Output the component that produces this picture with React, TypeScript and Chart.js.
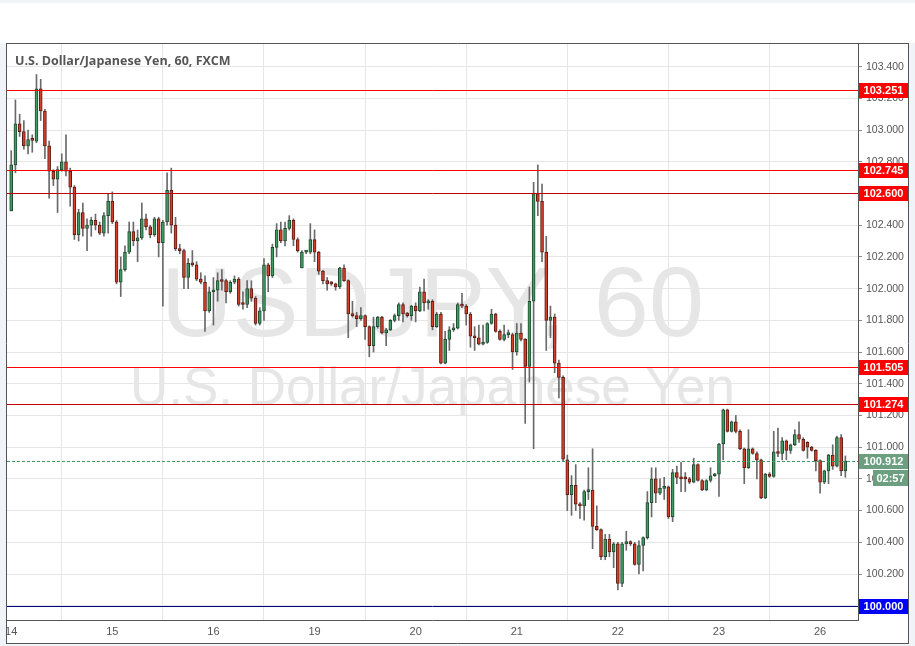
import React, { useEffect, useRef } from "react";
import { Chart, registerables } from "chart.js";

Chart.register(...registerables);

const title = "U.S. Dollar/Japanese Yen, 60, FXCM";
const watermarkMain = "USDJPY, 60";
const watermarkSub = "U.S. Dollar/Japanese Yen";

const dayLabels = ["14", "15", "16", "19", "20", "21", "22", "23", "26"];
const dayStarts = [0, 24, 48, 72, 96, 120, 144, 168, 192];

const opens = [
  102.49, 102.78, 103.04, 102.99, 102.90, 102.94, 102.93, 103.26, 103.12, 102.90,
  102.74, 102.69, 102.75, 102.80, 102.74, 102.64, 102.34, 102.48, 102.38, 102.40,
  102.43, 102.40, 102.35, 102.46, 102.55, 102.42, 102.04, 102.12, 102.23, 102.36,
  102.30, 102.32, 102.44, 102.39, 102.34, 102.44, 102.29, 102.42, 102.62, 102.40,
  102.25, 102.24, 102.07, 102.16, 102.15, 102.06, 102.04, 101.86, 101.98, 101.99,
  102.055, 102.05, 101.98, 102.04, 102.06, 101.905, 101.90, 102.00, 101.94, 101.78,
  101.86, 102.15, 102.08, 102.26, 102.37, 102.30, 102.38, 102.43, 102.31, 102.13,
  102.23, 102.23, 102.31, 102.23, 102.11, 102.05, 102.035, 102.03, 102.01, 102.13,
  102.05, 101.84, 101.83, 101.81, 101.83, 101.76, 101.64, 101.76, 101.82, 101.72,
  101.74, 101.80, 101.83, 101.90, 101.845, 101.83, 101.89, 101.86, 101.98, 101.91,
  101.92, 101.76, 101.84, 101.53, 101.68, 101.74, 101.75, 101.90, 101.89, 101.84,
  101.70, 101.69, 101.65, 101.66, 101.78, 101.84, 101.73, 101.68, 101.71, 101.71,
  101.60, 101.72, 101.68, 101.51, 101.92, 102.60, 102.55, 102.23, 101.80, 101.82,
  101.53, 101.44, 100.92, 100.70, 100.76, 100.64, 100.63, 100.72, 100.73, 100.50,
  100.48, 100.31, 100.42, 100.34, 100.39, 100.14, 100.39, 100.405, 100.39, 100.26,
  100.38, 100.43, 100.65, 100.80, 100.71, 100.74, 100.75, 100.56, 100.84, 100.81,
  100.805, 100.80, 100.78, 100.89, 100.79, 100.73, 100.79, 100.82, 100.83, 101.02,
  101.235, 101.10, 101.16, 101.10, 100.99, 100.87, 100.99, 100.96, 100.92, 100.68,
  100.83, 100.815, 100.97, 100.96, 101.04, 100.98, 101.015, 101.08, 101.05, 101.03,
  101.00, 100.98, 100.915, 100.78, 100.85, 100.95, 100.88, 101.06, 100.85,
];

const highs = [
  102.87, 103.19, 103.10, 103.06, 103.00, 102.97, 103.35, 103.32, 103.13, 102.93,
  102.75, 102.77, 102.85, 102.97, 102.76, 102.65, 102.50, 102.54, 102.44, 102.45,
  102.47, 102.42, 102.48, 102.60, 102.61, 102.43, 102.20, 102.27, 102.42, 102.42,
  102.37, 102.54, 102.47, 102.40, 102.45, 102.45, 102.43, 102.73, 102.76, 102.45,
  102.28, 102.25, 102.19, 102.24, 102.17, 102.10, 102.08, 102.01, 102.07, 102.10,
  102.12, 102.06, 102.05, 102.08, 102.07, 101.98, 102.05, 102.05, 101.95, 101.88,
  102.19, 102.16, 102.28, 102.41, 102.42, 102.42, 102.46, 102.44, 102.32, 102.24,
  102.24, 102.41, 102.37, 102.235, 102.115, 102.07, 102.045, 102.035, 102.135, 102.15,
  102.055, 101.92, 101.85, 101.88, 101.835, 101.765, 101.82, 101.825, 101.825, 101.75,
  101.805, 101.84, 101.91, 101.91, 101.85, 101.895, 101.91, 102.01, 102.06, 101.93,
  101.93, 101.85, 101.85, 101.73, 101.76, 101.78, 101.91, 101.97, 101.90, 101.85,
  101.76, 101.77, 101.77, 101.785, 101.87, 101.845, 101.74, 101.77, 101.74, 101.72,
  101.78, 101.78, 101.685, 102.01, 102.67, 102.78, 102.66, 102.33, 101.89, 101.84,
  101.55, 101.45, 100.95, 100.82, 100.89, 100.65, 100.73, 100.87, 100.99, 100.63,
  100.485, 100.45, 100.45, 100.40, 100.40, 100.40, 100.47, 100.41, 100.40, 100.41,
  100.435, 100.72, 100.87, 100.87, 100.80, 100.81, 100.755, 100.86, 100.88, 100.905,
  100.84, 100.81, 100.93, 100.895, 100.795, 100.795, 100.87, 100.835, 101.025, 101.24,
  101.24, 101.165, 101.20, 101.11, 100.995, 101.11, 100.995, 100.97, 100.925, 100.835,
  100.84, 101.10, 101.12, 101.06, 101.045, 101.02, 101.11, 101.16, 101.06, 101.035,
  101.005, 100.985, 100.92, 100.855, 100.955, 101.015, 101.07, 101.08, 100.945,
];

const lows = [
  102.49, 102.73, 102.96, 102.88, 102.85, 102.86, 102.92, 103.06, 102.82, 102.57,
  102.65, 102.48, 102.74, 102.71, 102.52, 102.31, 102.30, 102.33, 102.24, 102.33,
  102.37, 102.34, 102.33, 102.35, 102.41, 102.03, 101.95, 102.11, 102.22, 102.27,
  102.17, 102.31, 102.37, 102.32, 102.33, 102.20, 101.89, 102.40, 102.35, 102.24,
  102.22, 102.00, 102.00, 102.14, 102.05, 102.03, 101.73, 101.85, 101.77, 101.92,
  101.99, 101.91, 101.97, 102.03, 101.89, 101.87, 101.88, 101.92, 101.77, 101.77,
  101.80, 101.98, 102.07, 102.20, 102.29, 102.27, 102.37, 102.27, 102.23, 102.13,
  102.22, 102.22, 102.17, 102.09, 102.03, 101.99, 102.02, 101.99, 102.00, 102.045,
  101.69, 101.82, 101.76, 101.80, 101.68, 101.57, 101.60, 101.75, 101.715, 101.64,
  101.735, 101.79, 101.80, 101.79, 101.82, 101.80, 101.79, 101.855, 101.86, 101.87,
  101.74, 101.755, 101.525, 101.525, 101.61, 101.73, 101.745, 101.88, 101.77, 101.63,
  101.61, 101.645, 101.645, 101.655, 101.775, 101.725, 101.675, 101.67, 101.69, 101.49,
  101.58, 101.67, 101.15, 101.41, 100.99, 102.46, 102.17, 101.61, 101.69, 101.47,
  101.31, 100.91, 100.60, 100.57, 100.60, 100.55, 100.54, 100.67, 100.36, 100.475,
  100.29, 100.29, 100.31, 100.24, 100.10, 100.12, 100.35, 100.38, 100.255, 100.20,
  100.22, 100.42, 100.56, 100.65, 100.70, 100.67, 100.55, 100.53, 100.77, 100.72,
  100.72, 100.77, 100.775, 100.785, 100.725, 100.725, 100.78, 100.815, 100.69, 100.92,
  101.095, 101.095, 101.09, 100.985, 100.77, 100.865, 100.955, 100.80, 100.675, 100.675,
  100.81, 100.81, 100.94, 100.92, 100.92, 100.96, 101.01, 101.03, 100.975, 100.93,
  100.975, 100.85, 100.71, 100.77, 100.77, 100.86, 100.875, 100.82, 100.81,
];

const closes = [
  102.78, 103.04, 102.99, 102.90, 102.94, 102.935, 103.26, 103.12, 102.90, 102.74,
  102.69, 102.75, 102.80, 102.74, 102.64, 102.34, 102.48, 102.38, 102.40, 102.43,
  102.40, 102.35, 102.46, 102.55, 102.42, 102.04, 102.12, 102.23, 102.36, 102.30,
  102.32, 102.44, 102.39, 102.34, 102.44, 102.29, 102.42, 102.62, 102.40, 102.25,
  102.24, 102.07, 102.16, 102.15, 102.06, 102.04, 101.86, 101.98, 101.99, 102.05,
  102.045, 101.98, 102.04, 102.06, 101.90, 101.90, 102.00, 101.94, 101.78, 101.86,
  102.15, 102.08, 102.26, 102.37, 102.30, 102.38, 102.43, 102.31, 102.24, 102.23,
  102.235, 102.31, 102.23, 102.11, 102.05, 102.03, 102.03, 102.01, 102.13, 102.05,
  101.84, 101.83, 101.81, 101.83, 101.76, 101.64, 101.76, 101.82, 101.72, 101.74,
  101.80, 101.83, 101.90, 101.84, 101.83, 101.89, 101.86, 101.98, 101.91, 101.92,
  101.76, 101.84, 101.53, 101.68, 101.74, 101.75, 101.90, 101.89, 101.84, 101.70,
  101.69, 101.65, 101.66, 101.78, 101.84, 101.73, 101.68, 101.71, 101.715, 101.60,
  101.72, 101.68, 101.51, 101.92, 102.60, 102.55, 102.23, 101.80, 101.82, 101.53,
  101.44, 100.925, 100.70, 100.76, 100.64, 100.63, 100.72, 100.73, 100.50, 100.48,
  100.31, 100.42, 100.34, 100.39, 100.14, 100.39, 100.405, 100.39, 100.26, 100.38,
  100.43, 100.65, 100.80, 100.71, 100.74, 100.75, 100.56, 100.84, 100.81, 100.80,
  100.80, 100.78, 100.89, 100.79, 100.73, 100.79, 100.82, 100.83, 101.02, 101.235,
  101.10, 101.16, 101.10, 100.99, 100.87, 100.99, 100.96, 100.92, 100.68, 100.83,
  100.815, 100.97, 100.96, 101.04, 100.98, 101.015, 101.08, 101.05, 100.98, 101.00,
  100.98, 100.915, 100.78, 100.85, 100.95, 100.88, 101.06, 100.85, 100.912,
];

const levelValues = [103.251, 102.745, 102.6, 101.505, 101.274, 100.0];
const levelKinds = ["red", "red", "dark", "red", "dark", "blue"];
const currentPrice = 100.912;
const countdown = "02:57";

const Y_MIN = 99.91;
const Y_MAX = 103.549;
const Y_STEP = 0.2;

export default function App() {
  const ref = useRef<HTMLCanvasElement | null>(null);

  useEffect(() => {
    document.body.style.margin = "0";
    const canvas = ref.current;
    if (!canvas) return;

    const up = closes.map((c, i) => c >= opens[i]);
    const fills = up.map((u) => (u ? "#3f9a64" : "#d23f2c"));
    const borders = up.map((u) => (u ? "#1f4a2e" : "#5e1b10"));

    const lineColor: Record<string, string> = { red: "#ff0000", dark: "#c00000", blue: "#00007a" };
    const boxColor: Record<string, string> = { red: "#ff0000", dark: "#ff0000", blue: "#0000ff" };

    const bgPlugin = {
      id: "bg",
      beforeDraw(chart: any) {
        const ctx = chart.ctx;
        const area = chart.chartArea;
        ctx.save();
        ctx.fillStyle = "#f0f3f8";
        ctx.fillRect(0, 0, chart.width, chart.height);
        ctx.fillStyle = "#ffffff";
        ctx.fillRect(0, 3, chart.width, 40);
        ctx.fillRect(6, 43, 903, 601);
        const cx = (area.left + area.right) / 2;
        ctx.fillStyle = "#e6e6e6";
        ctx.textAlign = "center";
        ctx.textBaseline = "alphabetic";
        ctx.font = "99px 'Liberation Sans', Arial, sans-serif";
        ctx.fillText(watermarkMain, cx, 336);
        ctx.font = "53px 'Liberation Sans', Arial, sans-serif";
        ctx.fillText(watermarkSub, cx, 405);
        ctx.restore();
      },
    };

    const overlayPlugin = {
      id: "overlay",
      afterDraw(chart: any) {
        const ctx = chart.ctx;
        const area = chart.chartArea;
        const ys = chart.scales.y;
        ctx.save();
        levelValues.forEach((v, i) => {
          const y = Math.round(ys.getPixelForValue(v)) + 0.5;
          ctx.strokeStyle = lineColor[levelKinds[i]];
          ctx.lineWidth = 1;
          ctx.beginPath();
          ctx.moveTo(area.left, y);
          ctx.lineTo(area.right, y);
          ctx.stroke();
        });
        const cy = Math.round(ys.getPixelForValue(currentPrice)) + 0.5;
        ctx.strokeStyle = "#3d9a62";
        ctx.setLineDash([3, 2]);
        ctx.beginPath();
        ctx.moveTo(area.left, cy);
        ctx.lineTo(area.right, cy);
        ctx.stroke();
        ctx.setLineDash([]);

        ctx.strokeStyle = "#555555";
        ctx.lineWidth = 1;
        ctx.beginPath();
        ctx.moveTo(6, 43.5);
        ctx.lineTo(909, 43.5);
        ctx.moveTo(6.5, 43);
        ctx.lineTo(6.5, 644);
        ctx.moveTo(area.right + 0.5, 43);
        ctx.lineTo(area.right + 0.5, area.bottom + 1);
        ctx.moveTo(6, area.bottom + 0.5);
        ctx.lineTo(area.right + 1, area.bottom + 0.5);
        ctx.moveTo(908.5, 43);
        ctx.lineTo(908.5, 644);
        ctx.moveTo(6, 643.5);
        ctx.lineTo(909, 643.5);
        ctx.stroke();

        const bx = area.right + 1;
        const bw = 908 - bx;
        ctx.font = "bold 11px 'Liberation Sans', Arial, sans-serif";
        ctx.textAlign = "center";
        ctx.textBaseline = "middle";
        levelValues.forEach((v, i) => {
          const y = Math.round(ys.getPixelForValue(v));
          ctx.fillStyle = boxColor[levelKinds[i]];
          ctx.fillRect(bx, y - 7, bw, 15);
          ctx.fillStyle = "#ffffff";
          ctx.fillText(v.toFixed(3), bx + bw / 2, y + 1);
        });
        const py = Math.round(ys.getPixelForValue(currentPrice));
        ctx.fillStyle = "#6b9f80";
        ctx.fillRect(bx, py - 7, bw, 15);
        ctx.fillStyle = "#ffffff";
        ctx.fillText(currentPrice.toFixed(3), bx + bw / 2, py + 1);
        ctx.fillStyle = "#6b9f80";
        ctx.fillRect(873, py + 9, 35, 16);
        ctx.fillStyle = "#ffffff";
        ctx.fillText(countdown, 873 + 17.5, py + 17.5);

        ctx.fillStyle = "#555555";
        ctx.textAlign = "left";
        ctx.textBaseline = "alphabetic";
        ctx.font = "bold 12.5px 'Open Sans', sans-serif";
        ctx.fillText(title, 15, 65);
        ctx.restore();
      },
    };

    const chart = new Chart(canvas, {
      type: "bar",
      data: {
        datasets: [
          {
            label: "body",
            data: opens.map((o, i) => ({ x: i, y: [o, closes[i]] })) as any,
            backgroundColor: fills,
            borderColor: borders,
            borderWidth: 1,
            borderSkipped: false,
            barThickness: 3,
            minBarLength: 2,
            grouped: false,
          } as any,
          {
            label: "wick",
            data: lows.map((l, i) => ({ x: i, y: [l, highs[i]] })) as any,
            backgroundColor: "#6a6a6a",
            borderWidth: 0,
            barThickness: 1,
            grouped: false,
          } as any,
        ],
      },
      options: {
        animation: false,
        responsive: false,
        devicePixelRatio: 1,
        layout: { padding: { left: 7, top: 43, right: 0, bottom: 0 } },
        plugins: { legend: { display: false }, tooltip: { enabled: false } },
        scales: {
          x: {
            type: "linear",
            min: -1,
            max: 201,
            offset: false,
            grid: { color: "#e6e6e6", drawTicks: false },
            border: { display: false },
            ticks: {
              color: "#555555",
              font: { size: 11, family: "'Liberation Sans', Arial, sans-serif" },
              padding: 5,
              maxRotation: 0,
              autoSkip: false,
              callback: (v: any) => {
                const k = dayStarts.indexOf(Number(v));
                return k >= 0 ? dayLabels[k] : "";
              },
            },
            afterBuildTicks: (s: any) => {
              s.ticks = dayStarts.map((v) => ({ value: v }));
            },
            afterFit: (s: any) => {
              s.height = 26;
            },
          } as any,
          y: {
            type: "linear",
            position: "right",
            min: Y_MIN,
            max: Y_MAX,
            grid: { color: "#e6e6e6", tickLength: 4, tickColor: "#888888" },
            border: { display: false },
            ticks: {
              stepSize: Y_STEP,
              includeBounds: false,
              color: "#555555",
              font: { size: 10.5, family: "'Liberation Sans', Arial, sans-serif" },
              padding: 4,
              callback: (v: any) => Number(v).toFixed(3),
            },
            afterFit: (s: any) => {
              s.width = 57;
            },
          } as any,
        },
      },
      plugins: [bgPlugin, overlayPlugin],
    });

    return () => chart.destroy();
  }, []);

  return <canvas ref={ref} width={915} height={646} style={{ display: "block", width: 915, height: 646 }} />;
}
